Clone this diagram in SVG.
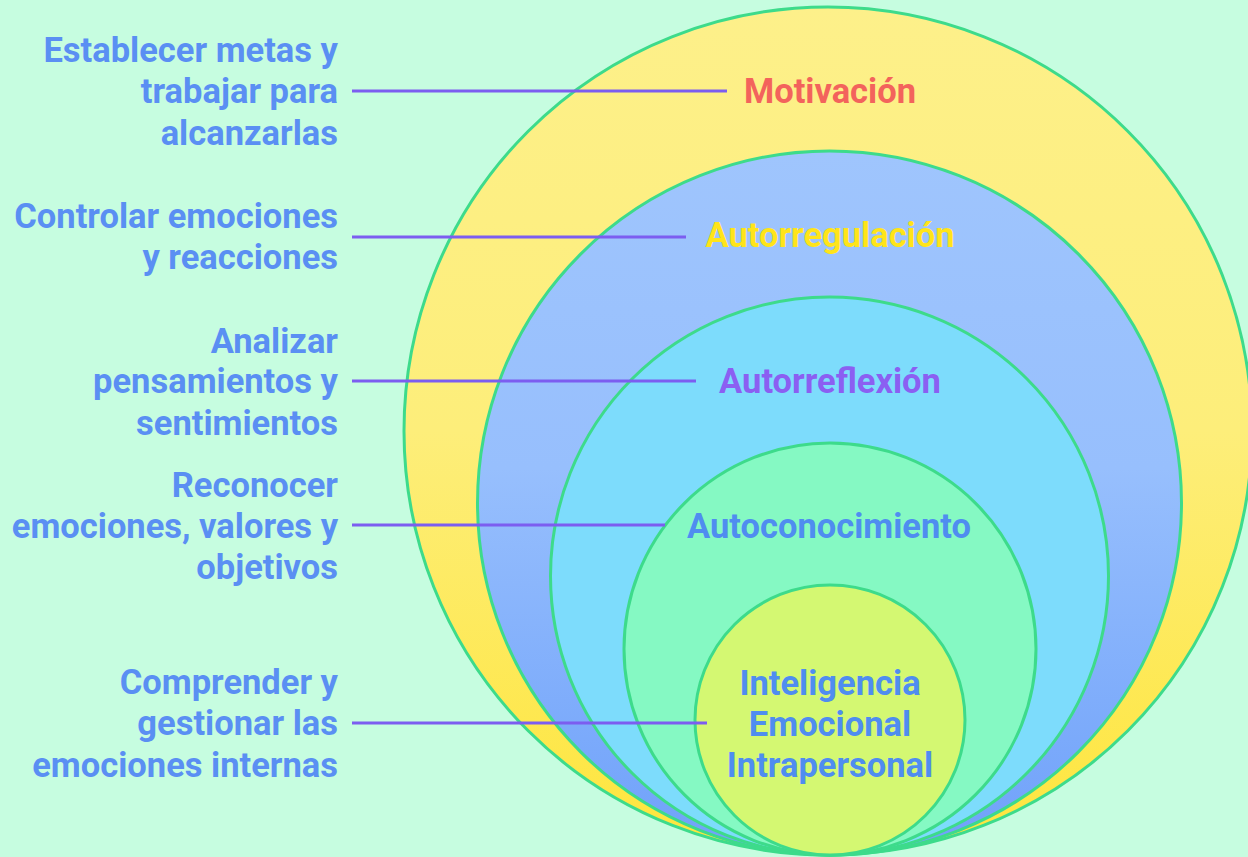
<svg xmlns="http://www.w3.org/2000/svg" width="1248" height="857" viewBox="0 0 1248 857">
  <defs>
    <linearGradient id="gYellow" x1="0" y1="0" x2="0" y2="1">
      <stop offset="0" stop-color="#fdf08a"/>
      <stop offset="0.5" stop-color="#fdee7a"/>
      <stop offset="1" stop-color="#fee53c"/>
    </linearGradient>
    <linearGradient id="gBlue" x1="0" y1="0" x2="0" y2="1">
      <stop offset="0" stop-color="#9fc5fd"/>
      <stop offset="0.45" stop-color="#97bffd"/>
      <stop offset="1" stop-color="#6fa1fa"/>
    </linearGradient>
    <style>
      .ring { stroke: #3ddb8b; stroke-width: 3; }
      .conn { stroke: #7c5df0; stroke-width: 3; fill: none; }
      .side { font-family: Roboto, "Liberation Sans", sans-serif; font-weight: 700; font-size: 34.5px; fill: #5a8ff3; text-anchor: end; }
      .lbl { font-family: Roboto, "Liberation Sans", sans-serif; font-weight: 700; font-size: 34.5px; text-anchor: middle; }
    </style>
  </defs>
  <rect width="1248" height="857" fill="#c6fde0"/>

  <g id="motivacion">
    <circle class="ring" cx="828" cy="431" r="424" fill="url(#gYellow)"/>
  </g>
  <g id="autorregulacion">
    <circle class="ring" cx="829.5" cy="503" r="352" fill="url(#gBlue)"/>
  </g>
  <g id="autorreflexion">
    <circle class="ring" cx="829.5" cy="576" r="279" fill="#7ddcfc"/>
  </g>
  <g id="autoconocimiento">
    <circle class="ring" cx="830" cy="649" r="206" fill="#85f9c3"/>
  </g>
  <g id="inteligencia">
    <circle class="ring" cx="830" cy="720" r="135" fill="#d4f872"/>
  </g>

  <g id="connectors">
    <line class="conn" x1="352" y1="91" x2="727" y2="91"/>
    <line class="conn" x1="352" y1="237" x2="686" y2="237"/>
    <line class="conn" x1="352" y1="381" x2="696" y2="381"/>
    <line class="conn" x1="352" y1="525" x2="665" y2="525"/>
    <line class="conn" x1="352" y1="723" x2="707" y2="723"/>
  </g>

  <g id="labels">
    <text class="lbl" x="830" y="103" fill="#f3635c">Motivación</text>
    <text class="lbl" x="830" y="247" fill="#ffe41a">Autorregulación</text>
    <text class="lbl" x="830" y="393" fill="#8b5ff2">Autorreflexión</text>
    <text class="lbl" x="829" y="538" fill="#4f8df0">Autoconocimiento</text>
    <text class="lbl" x="830" y="695" fill="#4f8df0">Inteligencia</text>
    <text class="lbl" x="830" y="736" fill="#4f8df0">Emocional</text>
    <text class="lbl" x="830" y="777" fill="#4f8df0">Intrapersonal</text>
  </g>

  <g id="descriptions">
    <text class="side" x="338" y="62">Establecer metas y</text>
    <text class="side" x="338" y="103">trabajar para</text>
    <text class="side" x="338" y="145">alcanzarlas</text>
    <text class="side" x="338" y="228">Controlar emociones</text>
    <text class="side" x="338" y="269">y reacciones</text>
    <text class="side" x="338" y="353">Analizar</text>
    <text class="side" x="338" y="393">pensamientos y</text>
    <text class="side" x="338" y="435">sentimientos</text>
    <text class="side" x="338" y="497">Reconocer</text>
    <text class="side" x="338" y="538">emociones, valores y</text>
    <text class="side" x="338" y="579">objetivos</text>
    <text class="side" x="338" y="694">Comprender y</text>
    <text class="side" x="338" y="735">gestionar las</text>
    <text class="side" x="338" y="777">emociones internas</text>
  </g>
</svg>
